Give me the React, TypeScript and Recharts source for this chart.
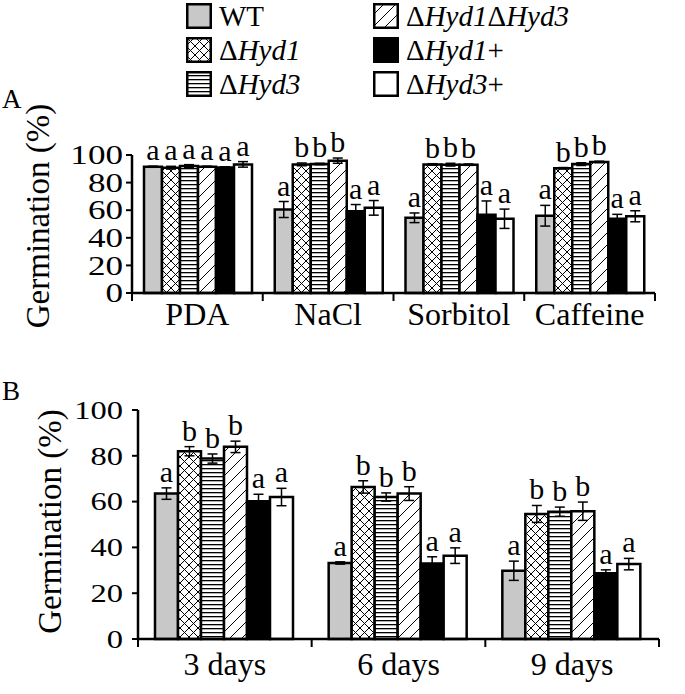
import React from 'react';
import { BarChart, Bar, XAxis, YAxis, ErrorBar, LabelList, Legend } from 'recharts';

const FONT = '"Liberation Serif", "Times New Roman", serif';

const strainNames = ['WT', 'ΔHyd1', 'ΔHyd3', 'ΔHyd1ΔHyd3', 'ΔHyd1+', 'ΔHyd3+'];
const strainKeys = ['wt', 'h1', 'h3', 'h13', 'h1c', 'h3c'];
const strainFills = ['#c8c8c8', 'url(#pat-cross)', 'url(#pat-horiz)', 'url(#pat-diag)', '#000000', '#ffffff'];
const yTicks = [0, 20, 40, 60, 80, 100];

// panel A: stress media
const categoriesA = ['PDA', 'NaCl', 'Sorbitol', 'Caffeine'];
const wtA = [91.5, 60.5, 54.5, 56];
const hyd1A = [90.8, 93.2, 93.2, 90.4];
const hyd3A = [92, 93.5, 93, 93.4];
const hyd13A = [91.5, 95.9, 93, 95];
const hyd1cA = [91, 59.3, 56.7, 53.8];
const hyd3cA = [93.2, 61.7, 53.8, 55.6];
const wtErrA = [0.4, 5.8, 3.5, 7.5];
const hyd1ErrA = [1, 1, 0.5, 0.5];
const hyd3ErrA = [1, 0.5, 1, 1];
const hyd13ErrA = [0.4, 1.9, 0.5, 0.5];
const hyd1cErrA = [0.5, 4.8, 10, 3.2];
const hyd3cErrA = [2, 5.3, 7, 4];
const lettersA = [
  ['a', 'a', 'a', 'a'],
  ['a', 'b', 'b', 'b'],
  ['a', 'b', 'b', 'b'],
  ['a', 'b', 'b', 'b'],
  ['a', 'a', 'a', 'a'],
  ['a', 'a', 'a', 'a'],
];

// panel B: time course
const categoriesB = ['3 days', '6 days', '9 days'];
const wtB = [63.5, 33.2, 29.8];
const hyd1B = [82, 66.4, 54.6];
const hyd3B = [78.8, 62, 55.6];
const hyd13B = [83.9, 63.5, 55.8];
const hyd1cB = [60.2, 33, 28.7];
const hyd3cB = [62, 36.4, 32.7];
const wtErrB = [2.5, 0.5, 4.2];
const hyd1ErrB = [2, 2.7, 3.7];
const hyd3ErrB = [2, 1.8, 2];
const hyd13ErrB = [2.5, 3, 4];
const hyd1cErrB = [3, 2.9, 1.5];
const hyd3cErrB = [3.8, 3.4, 2.5];
const lettersB = [
  ['a', 'a', 'a'],
  ['b', 'b', 'b'],
  ['b', 'b', 'b'],
  ['b', 'b', 'b'],
  ['a', 'a', 'a'],
  ['a', 'a', 'a'],
];

function buildRows(cats: string[], values: number[][], errors: number[][], letters: string[][]) {
  return cats.map((c, i) => {
    const row: any = { name: c };
    strainKeys.forEach((k, s) => {
      row[k] = values[s][i];
      row[k + 'Err'] = errors[s][i];
      row[k + 'Sig'] = letters[s][i];
    });
    return row;
  });
}

const rowsA = buildRows(
  categoriesA,
  [wtA, hyd1A, hyd3A, hyd13A, hyd1cA, hyd3cA],
  [wtErrA, hyd1ErrA, hyd3ErrA, hyd13ErrA, hyd1cErrA, hyd3cErrA],
  lettersA
);
const rowsB = buildRows(
  categoriesB,
  [wtB, hyd1B, hyd3B, hyd13B, hyd1cB, hyd3cB],
  [wtErrB, hyd1ErrB, hyd3ErrB, hyd13ErrB, hyd1cErrB, hyd3cErrB],
  lettersB
);

function strainLabel(name: string) {
  return name.split(/(Hyd\d)/).filter(Boolean).map((p, i) =>
    /Hyd\d/.test(p) ? <i key={i}>{p}</i> : <span key={i}>{p}</span>
  );
}

function CategoryTick(props: any) {
  const { x, y, payload, index, count, labelDy, fontSize } = props;
  const half = payload?.offset ?? 0;
  return (
    <g>
      <line x1={x - half} x2={x - half} y1={y} y2={y + 8} stroke="#000" strokeWidth={2} />
      {index === count - 1 && (
        <line x1={x + half} x2={x + half} y1={y} y2={y + 8} stroke="#000" strokeWidth={2} />
      )}
      <text x={x} y={y + labelDy} textAnchor="middle" fontSize={fontSize} fontFamily={FONT} fill="#000">
        {payload.value}
      </text>
    </g>
  );
}

// tick numbers in the original are drawn a little wide
function ValueTick(props: any) {
  const { x, y, payload, fontSize, sx } = props;
  return (
    <g transform={`translate(${x},${y}) scale(${sx},1)`}>
      <text x={0} y={0} dy="0.34em" textAnchor="end" fontSize={fontSize} fontFamily={FONT} fill="#000">
        {payload.value}
      </text>
    </g>
  );
}

function makeSigLabel(rows: any[], key: string) {
  return (p: any) => {
    const { x, y, width, height, value, index } = p;
    const row = rows[index];
    const v = row[key];
    const perUnit = v ? height / v : 0;
    const top = y - row[key + 'Err'] * perUnit;
    return (
      <text x={x + width / 2} y={top - 6} textAnchor="middle" fontSize={30} fontFamily={FONT} fill="#000">
        {value}
      </text>
    );
  };
}

function yTitle(xShift: number, yShift: number) {
  return (p: any) => {
    const vb = p.viewBox || {};
    const cx = vb.x + xShift;
    const cy = vb.y + vb.height / 2 + yShift;
    return (
      <text
        x={cx}
        y={cy}
        transform={`rotate(-90 ${cx} ${cy})`}
        textAnchor="middle"
        fontSize={33}
        fontFamily={FONT}
        fill="#000"
      >
        Germination (%)
      </text>
    );
  };
}

function LegendBox(props: any) {
  const items = props.payload || [];
  const ordered = strainKeys.map((k) => items.find((it: any) => it.dataKey === k)).filter(Boolean);
  const col1 = ordered.slice(0, 3);
  const col2 = ordered.slice(3);
  const renderItem = (it: any) => {
    const idx = strainKeys.indexOf(it.dataKey);
    return (
      <div key={it.dataKey} style={{ display: 'flex', alignItems: 'center', height: 26, marginBottom: 8 }}>
        <svg width={26} height={26} style={{ flex: 'none' }}>
          <rect x={1.25} y={1.25} width={23.5} height={23.5} fill={strainFills[idx]} stroke="#000" strokeWidth={2.5} />
        </svg>
        <span style={{ marginLeft: 7, fontSize: 29, lineHeight: '26px', fontFamily: FONT, color: '#000', whiteSpace: 'nowrap' }}>
          {strainLabel(it.value)}
        </span>
      </div>
    );
  };
  return (
    <div style={{ display: 'flex' }}>
      <div style={{ width: 187 }}>{col1.map(renderItem)}</div>
      <div>{col2.map(renderItem)}</div>
    </div>
  );
}

function Panel(props: {
  rows: any[];
  cats: string[];
  width: number;
  height: number;
  margin: any;
  xHeight: number;
  gap: number;
  tickFont: number;
  tickScale: number;
  tickMargin: number;
  labelDy: number;
  titleX: number;
  titleY: number;
  legend?: boolean;
}) {
  const { rows, cats } = props;
  return (
    <BarChart
      width={props.width}
      height={props.height}
      data={rows}
      margin={props.margin}
      barGap={0}
      barCategoryGap={props.gap}
    >
      <XAxis
        dataKey="name"
        height={props.xHeight}
        interval={0}
        tickLine={false}
        tickSize={0}
        tickMargin={0}
        axisLine={{ stroke: '#000', strokeWidth: 2.5 }}
        tick={<CategoryTick count={cats.length} labelDy={props.labelDy} fontSize={32} />}
      />
      <YAxis
        width={60}
        domain={[0, 100]}
        ticks={yTicks}
        interval={0}
        tickSize={6}
        tickMargin={props.tickMargin}
        axisLine={{ stroke: '#000', strokeWidth: 2.5 }}
        tickLine={{ stroke: '#000', strokeWidth: 2 }}
        tick={<ValueTick fontSize={props.tickFont} sx={props.tickScale} />}
        label={{ content: yTitle(props.titleX, props.titleY) }}
      />
      {props.legend && (
        <Legend
          layout="vertical"
          verticalAlign="middle"
          align="center"
          content={<LegendBox />}
          wrapperStyle={{ position: 'absolute', top: 3, left: 186, width: 440, height: 'auto' }}
        />
      )}
      {strainKeys.map((k, s) => (
        <Bar
          key={k}
          dataKey={k}
          name={strainNames[s]}
          fill={strainFills[s]}
          stroke="#000"
          strokeWidth={2.5}
          isAnimationActive={false}
        >
          <ErrorBar dataKey={k + 'Err'} width={5} stroke="#000" strokeWidth={1.5} direction="y" />
          <LabelList dataKey={k + 'Sig'} content={makeSigLabel(rows, k)} />
        </Bar>
      ))}
    </BarChart>
  );
}

export default function App() {
  return (
    <div style={{ position: 'absolute', left: 0, top: 0, width: 685, height: 694, background: '#fff', fontFamily: FONT }}>
      <svg width={0} height={0} style={{ position: 'absolute' }}>
        <defs>
          <pattern id="pat-cross" width="9" height="9" patternUnits="userSpaceOnUse">
            <rect width="9" height="9" fill="#fff" />
            <path d="M0,0 L9,9 M9,0 L0,9" stroke="#000" strokeWidth="1" />
          </pattern>
          <pattern id="pat-horiz" width="4" height="4" patternUnits="userSpaceOnUse">
            <rect width="4" height="4" fill="#fff" />
            <rect y="0" width="4" height="1.3" fill="#000" />
          </pattern>
          <pattern id="pat-diag" width="12" height="12" patternUnits="userSpaceOnUse">
            <rect width="12" height="12" fill="#fff" />
            <path d="M0,12 L12,0 M-3,3 L3,-3 M9,15 L15,9" stroke="#000" strokeWidth="1" />
          </pattern>
        </defs>
      </svg>

      <div style={{ position: 'absolute', left: 2, top: 84, fontSize: 27, color: '#000' }}>A</div>
      <div style={{ position: 'absolute', left: 2, top: 376, fontSize: 27, color: '#000' }}>B</div>

      <div style={{ position: 'absolute', left: 0, top: 0 }}>
        <Panel
          rows={rowsA}
          cats={categoriesA}
          width={685}
          height={340}
          margin={{ top: 155, right: 30, bottom: 7, left: 72 }}
          xHeight={40}
          gap={12}
          tickFont={27}
          tickScale={1.3}
          tickMargin={3}
          labelDy={32}
          titleX={-23}
          titleY={-8}
          legend
        />
      </div>
      <div style={{ position: 'absolute', left: 0, top: 340 }}>
        <Panel
          rows={rowsB}
          cats={categoriesB}
          width={685}
          height={354}
          margin={{ top: 70, right: 26, bottom: 10, left: 78 }}
          xHeight={45}
          gap={17}
          tickFont={26}
          tickScale={1.25}
          tickMargin={9}
          labelDy={36}
          titleX={-17}
          titleY={-3}
        />
      </div>
    </div>
  );
}
